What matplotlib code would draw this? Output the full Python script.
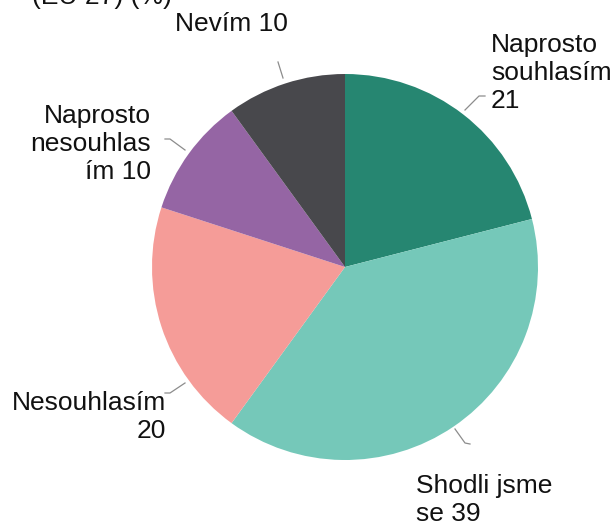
import numpy as np
import matplotlib
matplotlib.use("Agg")
from matplotlib import pyplot as plt

plt.rcParams['font.family'] = ['Liberation Sans', 'DejaVu Sans']

# answer shares in percent, clockwise from 12 o'clock
categories = ["Naprosto souhlasím", "Shodli jsme se", "Nesouhlasím", "Naprosto nesouhlasím", "Nevím"]
values = [21, 39, 20, 10, 10]
colors = ["#268671", "#75c8b9", "#f59c98", "#9565a4", "#48484c"]
# wrapped label text, value filled in below
label_fmt = ["Naprosto\nsouhlasím\n{}", "Shodli jsme\nse {}", "Nesouhlasím\n{}",
             "Naprosto\nnesouhlas\ním {}", "Nevím {}"]

W, H = 614, 526
CX, CY, R = 345, 267, 193  # pie centre and radius in pixels


def to_data(px, py):
    # pixel position (from top-left) -> pie data coords
    return (px - CX) / R, (CY - py) / R


fig = plt.figure(figsize=(W / 100, H / 100), dpi=100)
ax = fig.add_axes([(CX - R) / W, (H - CY - R) / H, 2 * R / W, 2 * R / H])
ax.pie(values, colors=colors, startangle=90, counterclock=False, radius=1,
       wedgeprops=dict(linewidth=0))
ax.set_xlim(-1, 1)
ax.set_ylim(-1, 1)
ax.axis('off')

# label text: anchor pixel, horizontal alignment
label_pos = [((491, 33), 'left'), ((416, 474), 'left'), ((166, 391), 'right'),
             ((151, 104), 'right'), ((231, 12), 'center')]
# leader lines in pixels
leaders = [[(465, 110), (479, 96), (485, 96)],
           [(455, 429), (465, 443), (470, 444)],
           [(185, 383), (170, 393), (165, 393)],
           [(185, 150), (170, 139), (165, 139)],
           [(283, 78), (278, 62)]]

for fmt, val, (pos, ha), pts in zip(label_fmt, values, label_pos, leaders):
    x, y = to_data(*pos)
    ax.text(x, y, fmt.format(val), ha=ha, va='top', fontsize=19, color='#111111',
            multialignment=ha, clip_on=False)
    xs, ys = zip(*[to_data(*p) for p in pts])
    ax.plot(xs, ys, color='#8c8c8c', lw=0.9, clip_on=False)

# title runs off the top edge
fig.text(32 / W, 1 - 9 / H, "(EU 27) (%)", ha='left', va='bottom',
         fontsize=19, color='#111111')

fig.savefig("out.png", dpi=100)
